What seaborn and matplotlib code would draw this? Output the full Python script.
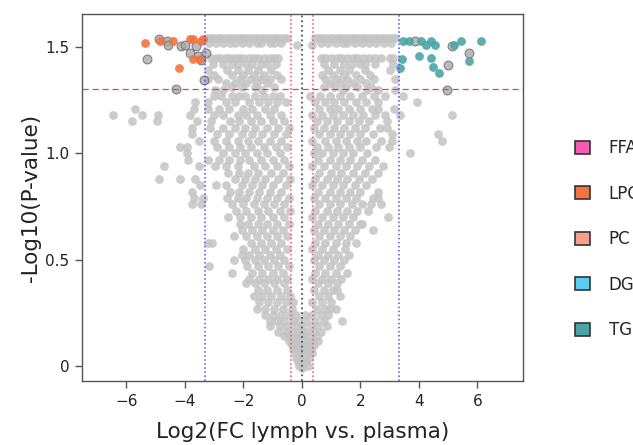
import numpy as np
import pandas as pd
import seaborn as sns
import matplotlib.pyplot as plt
from matplotlib.patches import Patch

# grey (non significant) lipids, one row of x values for each -log10(p) level
grey_y = [1.54, 1.52, 1.51, 1.45, 1.42, 1.39, 1.37, 1.35, 1.33, 1.31, 1.30,
          1.27, 1.24, 1.21, 1.18, 1.15, 1.12, 1.09, 1.06, 1.03, 1.00,
          0.97, 0.94, 0.91, 0.88, 0.85, 0.82, 0.79, 0.76, 0.73, 0.70,
          0.67, 0.64, 0.61, 0.58, 0.55, 0.52, 0.50, 0.47, 0.44, 0.41,
          0.39, 0.36, 0.33, 0.30, 0.27, 0.24, 0.21, 0.19, 0.16, 0.14,
          0.12, 0.10, 0.08, 0.06, 0.04, 0.02, 0.00, -0.01]
grey_x = [
    [-3.25, -3.12, -3.0, -2.88, -2.75, -2.62, -2.5, -2.38, -2.25, -2.12, -2.0, -1.88, -1.75,
     -1.62, -1.5, -1.38, -1.25, -1.12, -1.0, -0.88, -0.75, -0.62, -0.5,
     0.45, 0.58, 0.7, 0.82, 0.95, 1.08, 1.2, 1.32, 1.45, 1.58, 1.7, 1.82, 1.95, 2.08, 2.2,
     2.32, 2.45, 2.58, 2.7, 2.82, 2.95, 3.08, 3.2],
    [-3.18, -2.95, -2.7, -2.45, -2.3, -2.05, -1.8, -1.55, -1.4, -1.1, -0.95, -0.7,
     0.65, 0.9, 1.15, 1.4, 1.55, 1.8, 2.05, 2.3, 2.55, 2.8, 3.05],
    [-0.18, 0.33],
    [-3.1, -2.95, -2.8, -2.6, -2.45, -2.3, -2.15, -2.0, -1.8, -1.65, -1.5, -1.3, -1.1, -0.95, -0.8,
     0.65, 0.8, 1.0, 1.2, 1.35, 1.55, 1.75, 1.9, 2.1, 2.3, 2.5, 2.7, 3.0, 3.1],
    [-3.05, -2.7, -2.4, -2.2, -1.9, -1.7, -1.4, -1.2, -0.9, 0.75, 1.1, 1.45, 1.7, 2.0, 2.15, 2.5, 3.12],
    [-3.2, -2.57, -2.2, -1.85, -1.5, -1.05, 0.9, 1.3, 1.6, 2.15, 3.01],
    [-3.0, -2.4, -2.0, -1.65, -1.3, -0.85, 0.7, 1.05, 1.45, 1.85, 2.32],
    [-3.2, -2.86, -2.1, -1.75, -1.4, -1.1, -0.7, 0.8, 1.2, 1.55, 2.0, 2.46, 3.18],
    [-2.6, -2.3, -1.9, -1.55, -1.2, 0.95, 1.3, 1.75, 2.2],
    [-2.4, -2.05, -1.6, -0.95, 0.75, 1.1, 1.5, 1.9, 2.35],
    [-2.97, -2.7, -1.35, 1.4, 2.21, 2.61, 3.18],
    [-3.0, -2.75, -2.4, -2.15, -1.95, -1.6, -1.3, -1.0, -0.75,
     0.27, 0.62, 0.96, 1.3, 1.64, 2.05, 2.45, 2.84, 3.46],
    [-3.66, -3.2, -2.6, -2.3, -1.8, -1.45, -1.15, -0.85, -0.55, 0.45, 0.8, 1.1, 1.45, 1.85, 2.2, 2.61, 3.92],
    [-5.71, -3.68, -3.2, -2.85, -2.5, -2.0, -1.7, -1.25, -0.95,
     0.6, 0.95, 1.25, 1.6, 2.0, 2.4, 2.61, 3.15],
    [-6.47, -5.48, -4.91, -3.83, -3.0, -2.7, -2.2, -1.9, -1.55, -1.1, -0.7,
     0.35, 0.7, 1.05, 1.4, 1.75, 2.1, 2.5, 2.84, 3.35, 5.12],
    [-5.82, -4.95, -3.6, -3.1, -2.45, -2.15, -1.75, -1.4, -1.0, -0.6, 0.5, 0.85, 1.2, 1.6, 1.95, 2.3, 2.9],
    [-3.77, -3.14, -2.71, -2.3, -1.95, -1.6, -1.2, -0.8, -0.45,
     0.4, 0.75, 1.1, 1.45, 1.8, 2.15, 2.67, 2.9],
    [-3.77, -2.9, -2.5, -2.05, -1.7, -1.35, -0.95, -0.55, 0.6, 0.95, 1.3, 1.65, 2.0, 2.42, 3.09, 4.66],
    [-3.51, -3.0, -2.6, -2.2, -1.85, -1.5, -1.1, -0.7, 0.35, 0.8, 1.15, 1.5, 1.9, 2.2, 2.72, 3.09, 4.78],
    [-4.17, -3.92, -2.9, -2.48, -2.1, -1.75, -1.3, -0.9, -0.5, 0.5, 0.9, 1.25, 1.6, 2.0, 2.52, 2.98],
    [-3.92, -2.7, -2.3, -1.95, -1.55, -1.2, -0.75, 0.4, 0.7, 1.05, 1.4, 1.75, 2.21, 3.69],
    [-3.89, -3.2, -2.85, -2.5, -2.1, -1.8, -1.4, -1.0, -0.6, 0.55, 0.95, 1.3, 1.65, 2.05, 2.5],
    [-4.71, -3.51, -2.97, -2.6, -2.2, -1.65, -1.25, -0.85, -0.45, 0.35, 0.75, 1.15, 1.5, 1.9, 2.3, 2.76],
    [-2.52, -2.15, -1.85, -1.5, -1.05, -0.65, 0.6, 1.0, 1.35, 1.75, 2.15, 2.6],
    [-4.88, -4.17, -3.66, -2.3, -1.95, -1.6, -1.25, -0.8, -0.4, 0.45, 0.85, 1.2, 1.55, 1.95, 2.4],
    [-3.49, -2.92, -2.6, -2.05, -1.7, -1.35, -1.0, -0.55, 0.35, 0.7, 1.05, 1.4, 1.8, 2.2],
    [-3.77, -2.45, -2.15, -1.8, -1.45, -1.1, -0.7, 0.55, 0.95, 1.3, 1.65, 2.0, 2.6],
    [-3.68, -3.39, -2.55, -2.2, -1.9, -1.55, -1.2, -0.85, -0.45,
     0.4, 0.8, 1.15, 1.5, 1.85, 2.42, 2.61],
    [-3.75, -3.46, -2.4, -2.0, -1.65, -1.3, -0.95, -0.6, 0.6, 0.95, 1.3, 1.7, 2.05, 2.38, 2.72],
    [-2.25, -1.9, -1.5, -1.15, -0.75, -0.4, 0.45, 0.85, 1.2, 1.55, 1.9, 2.27],
    [-2.52, -2.1, -1.75, -1.4, -1.0, -0.6, 0.35, 0.7, 1.05, 1.4, 1.75, 2.95],
    [-2.12, -1.85, -1.5, -1.2, -0.85, -0.45, 0.55, 0.9, 1.25, 1.6, 1.98, 2.04],
    [-2.06, -1.7, -1.35, -1.0, -0.65, 0.4, 0.75, 1.1, 1.45, 1.8, 2.42],
    [-2.32, -1.9, -1.55, -1.2, -0.85, -0.5, 0.6, 0.95, 1.3, 1.65],
    [-3.2, -3.09, -1.75, -1.4, -1.05, -0.7, 0.45, 0.8, 1.15, 1.5, 1.85],
    [-2.0, -1.6, -1.25, -0.9, -0.5, 0.35, 0.7, 1.05, 1.47],
    [-2.06, -1.8, -1.45, -1.1, -0.75, 0.55, 0.9, 1.25, 1.6],
    [-2.32, -1.95, -1.6, -1.3, -0.95, -0.6, 0.4, 0.75, 1.1, 1.45],
    [-3.17, -1.89, -1.5, -1.15, -0.8, -0.45, 0.6, 0.95, 1.3],
    [-2.40, -1.7, -1.35, -1.0, -0.65, 0.45, 0.8, 1.15, 1.53],
    [-1.8, -1.45, -1.15, -0.85, -0.5, 0.35, 0.7, 1.0, 1.35],
    [-1.91, -1.6, -1.3, -0.95, -0.6, 0.55, 0.9, 1.2],
    [-1.5, -1.2, -0.85, -0.5, 0.4, 0.75, 1.05, 1.19],
    [-1.65, -1.35, -1.05, -0.7, -0.4, 0.6, 0.9, 1.3],
    [-1.45, -1.15, -0.85, -0.55, -0.3, 0.35, 0.7, 1.0],
    [-1.55, -1.25, -0.95, -0.65, -0.35, 0.5, 0.8, 0.96, 1.15],
    [-1.26, -1.0, -0.7, -0.45, -0.2, 0.1, 0.35, 0.65, 0.9],
    [-1.1, -0.85, -0.6, -0.3, -0.1, 0.15, 0.45, 0.75, 1.36],
    [-1.09, -0.75, -0.5, -0.2, 0.0, 0.3, 0.55, 0.85],
    [-0.8, -0.55, -0.35, -0.15, 0.05, 0.15, 0.4, 0.65],
    [-0.6, -0.4, -0.25, -0.1, 0.05, 0.25, 0.5],
    [-0.45, -0.3, -0.15, 0.0, 0.15, 0.35, 0.55],
    [-0.35, -0.2, -0.05, 0.1, 0.25, 0.4],
    [-0.3, -0.15, 0.0, 0.15, 0.3],
    [-0.25, -0.1, 0.05, 0.2, 0.35],
    [-0.2, -0.05, 0.1, 0.25],
    [-0.15, 0.0, 0.15],
    [-0.1, 0.05, 0.2],
    [0.0],
]

# darker grey points with outline
edge_x = [-4.88, -4.60, -4.59, -5.31, -4.15, -4.00, -3.83, -3.63, -3.55, -3.46, -3.29, -3.34, -4.31,
          3.86, 5.12, 5.72, 5.00, 4.95]
edge_y = [1.536, 1.530, 1.510, 1.444, 1.505, 1.510, 1.474, 1.505, 1.456, 1.437, 1.474, 1.345, 1.302,
          1.528, 1.503, 1.474, 1.415, 1.298]

# LPC (up in plasma) and TG (up in lymph)
lpc_x = [-5.37, -4.85, -4.42, -3.83, -3.72, -4.20, -3.74, -3.49, -3.46, -3.37]
lpc_y = [1.517, 1.528, 1.528, 1.536, 1.536, 1.400, 1.444, 1.444, 1.528, 1.537]
tg_x = [3.46, 3.67, 4.07, 4.26, 4.40, 4.55, 5.20, 5.44, 6.12, 3.43, 4.01, 4.43, 4.49, 4.68, 5.72, 3.37]
tg_y = [1.528, 1.528, 1.528, 1.510, 1.528, 1.510, 1.510, 1.528, 1.528, 1.444, 1.456, 1.447,
        1.404, 1.376, 1.433, 1.400]

classes = ['FFA', 'LPC', 'PC', 'DG', 'TG']
class_colors = ['#f45bb5', '#f2733f', '#f7a08a', '#5ccdf2', '#4aa5a6']

grey = pd.DataFrame({'x': [x for xs, y in zip(grey_x, grey_y) for x in xs],
                     'y': [y for xs, y in zip(grey_x, grey_y) for x in xs]})

sns.set_style('white')
fig = plt.figure(figsize=(6.33, 4.45), dpi=100)
ax = fig.add_axes([0.1295, 0.1438, 0.6967, 0.8247])

sns.scatterplot(data=grey, x='x', y='y', color='#c4c4c4', alpha=0.85, s=40,
                linewidth=0, ax=ax, zorder=2)
sns.scatterplot(x=edge_x, y=edge_y, color='#aaaaaa', edgecolor='#6a6a6a', alpha=0.8,
                s=40, linewidth=0.8, ax=ax, zorder=3)
sns.scatterplot(x=lpc_x, y=lpc_y, color=class_colors[1], alpha=0.9, s=40, linewidth=0, ax=ax, zorder=4)
sns.scatterplot(x=tg_x, y=tg_y, color=class_colors[4], alpha=0.9, s=40, linewidth=0, ax=ax, zorder=4)

# thresholds
ax.axhline(-np.log10(0.05), color='#e8464f', ls=(0, (5, 3)), lw=0.9, zorder=5)
for v in [-np.log2(10), np.log2(10)]:
    ax.axvline(v, color='#4f4fe0', ls=':', lw=1.1, zorder=5)
for v in [-np.log2(1.3), np.log2(1.3)]:
    ax.axvline(v, color='#f05060', ls=':', lw=1.1, zorder=5)
ax.axvline(0, color='#555555', ls=':', lw=1.3, zorder=5)

ax.set_xlim(-7.52, 7.56)
ax.set_ylim(-0.07, 1.655)
ax.set_xticks([-6, -4, -2, 0, 2, 4, 6])
ax.set_yticks([0, 0.5, 1.0, 1.5])
ax.set_yticklabels(['0', '0.5', '1.0', '1.5'])
ax.tick_params(axis='both', direction='out', length=5, width=1, color='#555555',
               labelsize=11, labelcolor='#222222', bottom=True, left=True, pad=4)
for sp in ax.spines.values():
    sp.set_color('#555555')
    sp.set_linewidth(1)
ax.set_xlabel('Log2(FC lymph vs. plasma)', fontsize=15.5, color='#222222', labelpad=10)
ax.set_ylabel('-Log10(P-value)', fontsize=15.5, color='#222222', labelpad=3)

handles = [Patch(facecolor=c, edgecolor='#333333', linewidth=1.2) for c in class_colors]
ax.legend(handles, classes, loc='upper left', bbox_to_anchor=(1.085, 0.70), frameon=False,
          fontsize=12, handlelength=0.9, handleheight=0.8, labelspacing=1.65, handletextpad=1.1)

fig.savefig('out.png', dpi=100)
